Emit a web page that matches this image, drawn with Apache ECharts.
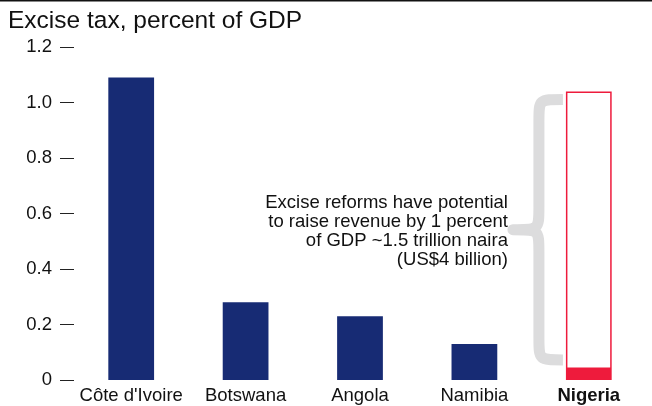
<!DOCTYPE html>
<html>
<head>
<meta charset="utf-8">
<script src="https://cdn.jsdelivr.net/npm/echarts@6/dist/echarts.min.js"></script>
<style>
  html, body { margin: 0; padding: 0; background: #fff; }
  #chart { width: 652px; height: 406px; }
</style>
</head>
<body>
<div id="chart"></div>
<script>
// Excise tax as a share of GDP, by country
const countries = ["Côte d'Ivoire", 'Botswana', 'Angola', 'Namibia', 'Nigeria'];
const exciseTax = [1.09, 0.28, 0.23, 0.13, 0.04];
// Additional revenue potential for Nigeria (percent of GDP), stacked on its current level
const reformPotential = ['-', '-', '-', '-', 1.0];
const yTicks = [0, 0.2, 0.4, 0.6, 0.8, 1.0, 1.2];
const noteLines = [
  'Excise reforms have potential',
  'to raise revenue by 1 percent',
  'of GDP ~1.5 trillion naira',
  '(US$4 billion)'
];

const NAVY = '#172b74';
const RED = '#ee1b3c';
const FONT = 'Liberation Sans, Arial, sans-serif';
const LABEL_SIZE = 18.5;
const highlight = 'Nigeria';

const chart = echarts.init(document.getElementById('chart'), null, { renderer: 'canvas' });

const hiIndex = countries.indexOf(highlight);
const braceData = [[hiIndex, exciseTax[hiIndex], exciseTax[hiIndex] + reformPotential[hiIndex]]];

// Curly brace beside the highlighted bar, spanning the reform potential, with its note
function renderBrace(params, api) {
  const cat = api.value(0);
  const lo = api.coord([cat, api.value(1)]);
  const hi = api.coord([cat, api.value(2)]);
  const band = api.size([1, 0])[0];
  const barLeft = lo[0] - band * 0.2;
  const top = hi[1] + 8;
  const bot = lo[1] - 9;
  const mid = (top + bot) / 2;
  const xEnd = barLeft - 3;
  const xMid = xEnd - 24;
  const xTip = xEnd - 50;
  const r = 22;
  const path =
    'M' + xEnd + ',' + top +
    ' C' + xMid + ',' + top + ' ' + xMid + ',' + top + ' ' + xMid + ',' + (top + r) +
    ' L' + xMid + ',' + (mid - r) +
    ' C' + xMid + ',' + mid + ' ' + xMid + ',' + mid + ' ' + xTip + ',' + mid +
    ' C' + xMid + ',' + mid + ' ' + xMid + ',' + mid + ' ' + xMid + ',' + (mid + r) +
    ' L' + xMid + ',' + (bot - r) +
    ' C' + xMid + ',' + bot + ' ' + xMid + ',' + bot + ' ' + xEnd + ',' + bot;
  return {
    type: 'group',
    children: [
      {
        type: 'path',
        shape: { pathData: path },
        style: { fill: null, stroke: '#dcdcdd', lineWidth: 11, lineCap: 'butt', lineJoin: 'round' }
      },
      {
        type: 'text',
        x: xEnd - 55,
        y: mid + 2,
        style: {
          text: noteLines.join('\n'),
          align: 'right',
          verticalAlign: 'middle',
          font: LABEL_SIZE + 'px ' + FONT,
          lineHeight: 19,
          fill: '#111'
        }
      }
    ]
  };
}

chart.setOption({
  animation: false,
  backgroundColor: '#fff',
  title: {
    text: 'Excise tax, percent of GDP',
    left: 3,
    top: 4,
    textStyle: { fontFamily: FONT, fontSize: 24.5, fontWeight: 'normal', color: '#111' }
  },
  graphic: [
    { type: 'rect', shape: { x: 0, y: 0, width: 652, height: 1.5 }, style: { fill: '#111' } }
  ],
  grid: { left: 74, right: 6, top: 47, bottom: 26, containLabel: false },
  xAxis: {
    type: 'category',
    data: countries,
    axisLine: { show: false },
    axisTick: { show: false },
    axisLabel: {
      interval: 0,
      hideOverlap: false,
      margin: 6,
      fontFamily: FONT,
      fontSize: LABEL_SIZE,
      color: '#111',
      formatter: function (v) { return v === highlight ? '{b|' + v + '}' : v; },
      rich: { b: { fontFamily: FONT, fontSize: LABEL_SIZE, fontWeight: 'bold', color: '#111' } }
    }
  },
  yAxis: {
    type: 'value',
    min: 0,
    max: 1.2,
    interval: 0.2,
    splitLine: { show: false },
    axisLine: { show: false },
    axisTick: { show: true, length: 14, lineStyle: { color: '#222', width: 1 } },
    axisLabel: {
      margin: 22,
      fontFamily: FONT,
      fontSize: LABEL_SIZE,
      color: '#111',
      formatter: function (v) {
        const t = yTicks.find(function (x) { return Math.abs(x - v) < 1e-9; });
        return t === 0 ? '0' : (t !== undefined ? t.toFixed(1) : '');
      }
    }
  },
  series: [
    {
      type: 'bar',
      stack: 'tax',
      barWidth: '40%',
      data: exciseTax.map(function (v, i) {
        return { value: v, itemStyle: { color: countries[i] === highlight ? RED : NAVY } };
      })
    },
    {
      type: 'bar',
      stack: 'tax',
      barWidth: '40%',
      data: reformPotential,
      itemStyle: { color: '#fff', borderColor: RED, borderWidth: 1.5 }
    },
    {
      type: 'custom',
      renderItem: renderBrace,
      data: braceData,
      z: 1,
      silent: true
    }
  ]
});
</script>
</body>
</html>
